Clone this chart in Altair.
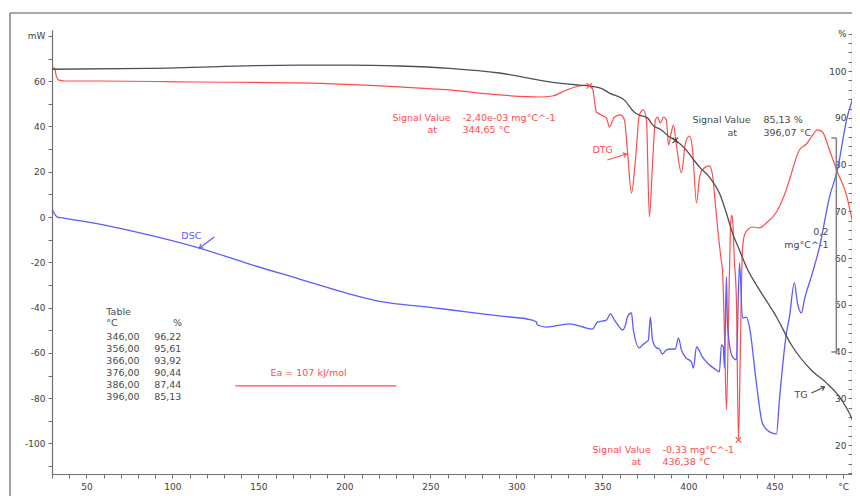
import altair as alt
import pandas as pd

# ---------------- data ----------------
# DSC heat flow (mW) vs temperature (°C)
dsc_temp = [30, 33.1, 36.0, 57.6, 76.7, 115.7, 144.8, 173.8, 198.8, 222.1,
            247.7, 270.9, 290.1, 309.3, 311.6, 312.2, 317.4, 330.8, 344.2, 347.1,
            352.3, 354.7, 357.0, 359.9, 361.6, 363.4, 364.5, 366.9, 368.0, 371.5,
            373.3, 375.6, 376.7, 377.9, 379.1, 381.4, 383.1, 384.9, 387.2, 390.1,
            392.4, 394.2, 395.9, 398.8, 401.7, 402.9, 404.7, 408.1, 411.0, 416.3,
            418.0, 419.2, 420.3, 420.9, 422.1, 422.7, 425.6, 427.9, 429.7, 431.4,
            433.7, 435.5, 439.5, 443.0, 447.1, 451.2, 452.9, 457.0, 458.7, 461.6,
            463.4, 465.7, 467.4, 472.1, 476.2, 482.0, 486.6, 491.9, 496.5, 498]
dsc_mw = [3.5, 0, -0.4, -3.1, -6.2, -13.7, -20.8, -27.4, -33.1, -37.5,
          -39.7, -41.9, -43.7, -45.5, -46.4, -47.7, -48.6, -47.2, -49.5, -46.4,
          -45.5, -42.8, -45.5, -48.6, -49.9, -47.7, -44.2, -42.4, -49.9, -57.8,
          -56.5, -55.2, -54.3, -44.2, -54.3, -57.8, -58.3, -60.5, -58.7, -58.3,
          -58.3, -53.4, -58.7, -62.3, -64.0, -66.7, -57.4, -61.8, -64.5, -67.6,
          -68.4, -56.5, -57.4, -66.7, -26.5, -47.7, -61.8, -63.1, -20.3, -44.6,
          -44.2, -48.6, -73.3, -91.0, -94.9, -95.8, -80.8, -51.2, -44.2, -29.1,
          -38.0, -42.4, -36.6, -24.7, -13.3, 8.8, 20.8, 42.8, 56.1, 63.0]

# TG mass (%) vs temperature (°C)
tg_temp = [30, 86.6, 173.8, 202.9, 232.0, 261.0, 290.1, 319.2, 336.6, 342.4,
           350.0, 354.1, 362.8, 368.6, 371.5, 376.2, 379.1, 384.3, 389.0, 392.4,
           398.8, 402.3, 406.4, 412.2, 418.0, 422.1, 425.6, 429.7, 433.7, 441.3,
           451.2, 459.9, 471.5, 480.2, 487.8, 495.3, 498]
tg_pct = [100.4, 100.6, 101.3, 101.3, 101.1, 100.6, 99.6, 97.7, 97.0, 96.8,
          96.2, 95.3, 93.8, 91.2, 90.6, 90.0, 88.5, 87.4, 85.9, 85.2,
          83.1, 81.4, 79.5, 77.3, 73.9, 69.6, 65.4, 61.7, 58.1, 53.2,
          47.4, 41.4, 36.0, 33.3, 30.3, 25.4, 22.6]

# DTG (mg/°C) vs temperature (°C)
dtg_temp = [30, 31.4, 32.6, 33.7, 37.2, 57.6, 115.7, 173.8, 232.0, 261.0,
            290.1, 313.4, 320.9, 329.1, 336.6, 342.4, 344.2, 346.5, 349.4, 352.3,
            354.1, 357.0, 360.5, 362.8, 364.5, 366.9, 369.2, 371.5, 373.8, 375.6,
            377.3, 379.1, 380.8, 382.0, 383.7, 385.5, 387.2, 388.4, 390.1, 391.3,
            393.0, 395.9, 398.3, 400.6, 402.3, 404.7, 406.4, 408.1, 412.2, 414.0,
            415.7, 417.4, 419.2, 419.8, 420.9, 422.1, 423.3, 424.4, 425.0, 425.6,
            426.7, 427.9, 429.1, 430.2, 431.4, 432.6, 434.3, 437.2, 441.3, 445.3,
            451.2, 455.8, 458.7, 464.5, 468.6, 471.5, 475.0, 477.9, 482.0, 486.6,
            491.9, 494.8, 498]
dtg_val = [0.0143, 0.0143, 0.0060, 0.0032, 0.0022, 0.0022, 0.0013, 0.0004, -0.0033, -0.0061,
           -0.0107, -0.0126, -0.0117, -0.0061, -0.0024, -0.0015, -0.0043, -0.0265, -0.0292, -0.0320,
           -0.0403, -0.0311, -0.0292, -0.0339, -0.0616, -0.1014, -0.0709, -0.0292, -0.0246, -0.0339,
           -0.1236, -0.0755, -0.0339, -0.0311, -0.0366, -0.0311, -0.0339, -0.0570, -0.0450, -0.0385,
           -0.0570, -0.0829, -0.0551, -0.0487, -0.0598, -0.1107, -0.0875, -0.0801, -0.0764, -0.0848,
           -0.1125, -0.1403, -0.1653, -0.1727, -0.2282, -0.3022, -0.2190, -0.1357, -0.1218, -0.1246,
           -0.1634, -0.2004, -0.3300, -0.2467, -0.1542, -0.1403, -0.1357, -0.1329, -0.1338, -0.1292,
           -0.1190, -0.1033, -0.0894, -0.0616, -0.0561, -0.0496, -0.0431, -0.0450, -0.0616, -0.0820,
           -0.1033, -0.1236, -0.1449]

table_temp = ["346,00", "356,00", "366,00", "376,00", "386,00", "396,00"]
table_pct = ["96,22", "95,61", "93,92", "90,44", "87,44", "85,13"]

x_ticks = list(range(30, 495, 10))
mw_ticks = list(range(-110, 90, 10))
pct_ticks = list(range(14, 110, 2))

# ---------------- styling ----------------
FONT = "DejaVu Sans"
RED = "#ff4d4d"
BLUE = "#5c5cff"
DARK = "#4a4a4a"
AXIS = "#707070"
FS = 9.5
PLOT_W = 800

x_scale = alt.Scale(domain=[30, 495.1], nice=False, zero=False)
mw_scale = alt.Scale(domain=[-113.5, 82.6], nice=False, zero=False)
pct_scale = alt.Scale(domain=[13.8, 108.8], nice=False, zero=False)
dtg_scale = alt.Scale(domain=[-0.3615, 0.0494], nice=False, zero=False)

x_axis = alt.Axis(values=x_ticks, title=None, grid=False, labelFlush=False, labelOverlap=False,
                  labelPadding=4, tickSize=4,
                  labelExpr="datum.value == 490 ? '°C' : (datum.value % 50 == 0 ? '' + datum.value : '')")
mw_axis = alt.Axis(values=mw_ticks, title=None, grid=False, orient="left", labelOverlap=False,
                   labelPadding=3, tickSize=4, labelFlush=False,
                   labelExpr="datum.value == 80 ? 'mW' : (datum.value % 20 == 0 ? '' + datum.value : '')")
pct_axis = alt.Axis(values=pct_ticks, title=None, grid=False, orient="left", offset=-PLOT_W,
                    labelOverlap=False, labelPadding=2, tickSize=4, labelFlush=False,
                    labelExpr="datum.value == 108 ? '%' : (datum.value % 10 == 0 ? '' + datum.value : '')")


def X(field):
    return alt.X(f"{field}:Q", scale=x_scale, axis=x_axis)


def Ymw(field):
    return alt.Y(f"{field}:Q", scale=mw_scale, axis=None)


dsc_df = pd.DataFrame({"T": dsc_temp, "v": dsc_mw, "i": range(len(dsc_temp))})
tg_df = pd.DataFrame({"T": tg_temp, "v": tg_pct, "i": range(len(tg_temp))})
dtg_df = pd.DataFrame({"T": dtg_temp, "v": dtg_val, "i": range(len(dtg_temp))})

dtg_line = alt.Chart(dtg_df).mark_line(color=RED, strokeWidth=1.2, clip=True,
                                       interpolate="monotone").encode(
    x=X("T"), y=alt.Y("v:Q", scale=dtg_scale, axis=None), order="i:Q")
dsc_line = alt.Chart(dsc_df).mark_line(color=BLUE, strokeWidth=1.3, clip=True,
                                       interpolate="monotone").encode(
    x=X("T"), y=alt.Y("v:Q", scale=mw_scale, axis=mw_axis), order="i:Q")
tg_line = alt.Chart(tg_df).mark_line(color="#505050", strokeWidth=1.3, clip=True,
                                     interpolate="monotone").encode(
    x=X("T"), y=alt.Y("v:Q", scale=pct_scale, axis=pct_axis), order="i:Q")


def texts(rows, color, align="left", size=FS):
    df = pd.DataFrame(rows, columns=["T", "y", "label"])
    return alt.Chart(df).mark_text(align=align, baseline="middle", font=FONT, fontSize=size,
                                   color=color).encode(x=X("T"), y=Ymw("y"), text="label:N")


def segs(rows, color, width):
    df = pd.DataFrame(rows, columns=["T", "y", "T2", "y2"])
    return alt.Chart(df).mark_rule(color=color, strokeWidth=width).encode(
        x=X("T"), y=Ymw("y"), x2="T2:Q", y2="y2:Q")


def heads(rows, color):
    df = pd.DataFrame(rows, columns=["T", "y", "ang"])
    return alt.Chart(df).mark_point(shape="M-1,-0.7L0,0L-1,0.7", filled=False, size=45,
                                    color=color, strokeWidth=1.2, opacity=1).encode(
        x=X("T"), y=Ymw("y"), angle=alt.Angle("ang:Q", scale=None))


CROSS = "M-1,-1L1,1M-1,1L1,-1"
dtg_marks = alt.Chart(pd.DataFrame({"T": [342.4, 429.1], "v": [-0.0024, -0.33]})).mark_point(
    shape=CROSS, filled=False, size=30, color=RED, strokeWidth=1.1, opacity=1).encode(
    x=X("T"), y=alt.Y("v:Q", scale=dtg_scale, axis=None))
tg_mark = alt.Chart(pd.DataFrame({"T": [392.4], "v": [85.2]})).mark_point(
    shape=CROSS, filled=False, size=30, color="#333333", strokeWidth=1.1, opacity=1).encode(
    x=X("T"), y=alt.Y("v:Q", scale=pct_scale, axis=None))

red_texts_left = texts([
    [227.9, 43.7, "Signal Value"], [268.6, 43.7, "-2,40e-03 mg°C^-1"],
    [248.3, 38.4, "at"], [268.6, 38.4, "344,65 °C"],
    [344.2, 29.6, "DTG"],
    [344.2, -102.9, "Signal Value"], [384.9, -102.9, "-0,33 mg°C^-1"],
    [366.9, -108.2, "at"], [384.9, -108.2, "436,38 °C"],
    [157.0, -68.9, "Ea = 107 kJ/mol"],
], RED)
dark_texts_left = texts([
    [402.3, 42.8, "Signal Value"], [443.6, 42.8, "85,13 %"],
    [422.7, 37.1, "at"], [443.6, 37.1, "396,07 °C"],
    [461.6, -78.6, "TG"],
    [61.6, -41.9, "Table"], [61.6, -46.8, "°C"],
] + [[61.6, -53.0 - 5.3 * k, t] for k, t in enumerate(table_temp)], DARK)
dark_texts_right = texts([
    [481.4, -6.6, "0,2"], [481.4, -12.4, "mg°C^-1"], [105.6, -46.8, "%"],
] + [[105.2, -53.0 - 5.3 * k, p] for k, p in enumerate(table_pct)], DARK, align="right")
blue_texts = texts([[105.2, -8.4, "DSC"]], BLUE)

bracket = segs([[486.0, 34.9, 486.0, -59.6], [483.1, 34.9, 486.0, 34.9],
                [483.1, -59.6, 486.0, -59.6]], "#808080", 1.5)
ea_line = segs([[136.6, -74.6, 230.2, -74.6]], RED, 1.3)
red_arrow = segs([[352.9, 25.2, 364.0, 27.8]], RED, 1.1)
blue_arrow = segs([[124.4, -8.8, 115.7, -13.7]], BLUE, 1.1)
dark_arrow = segs([[471.5, -77.7, 479.1, -75.1]], DARK, 1.1)
red_head = heads([[364.0, 27.8, 342.5]], RED)
blue_head = heads([[115.7, -13.7, 144]], BLUE)
dark_head = heads([[479.1, -75.1, 335]], DARK)

one = pd.DataFrame({"d": [0]})
frame_left = alt.Chart(one).mark_rule(color="#8c8c8c", strokeWidth=1.6).encode(
    x=alt.value(-42), y=alt.value(-17), y2=alt.value(470))
frame_top = alt.Chart(one).mark_rule(color="#8c8c8c", strokeWidth=1.6).encode(
    x=alt.value(-42), x2=alt.value(PLOT_W), y=alt.value(-17))

chart = alt.layer(
    frame_left, frame_top,
    dtg_line, dsc_line, tg_line,
    dtg_marks, tg_mark,
    red_texts_left, dark_texts_left, dark_texts_right, blue_texts,
    bracket, ea_line, red_arrow, blue_arrow, dark_arrow, red_head, blue_head, dark_head,
).resolve_scale(y="independent").properties(
    width=PLOT_W, height=444,
    autosize=alt.AutoSizeParams(type="none"),
    padding={"left": 44, "top": 22, "right": 0, "bottom": 22},
    background="white",
).configure_view(strokeWidth=0).configure_axis(
    domainColor=AXIS, tickColor=AXIS, labelColor="#404040", labelFont=FONT, labelFontSize=9,
    domainWidth=1.2, tickWidth=1, grid=False)

chart.save("out.html", embed_options={"renderer": "svg", "actions": False})
